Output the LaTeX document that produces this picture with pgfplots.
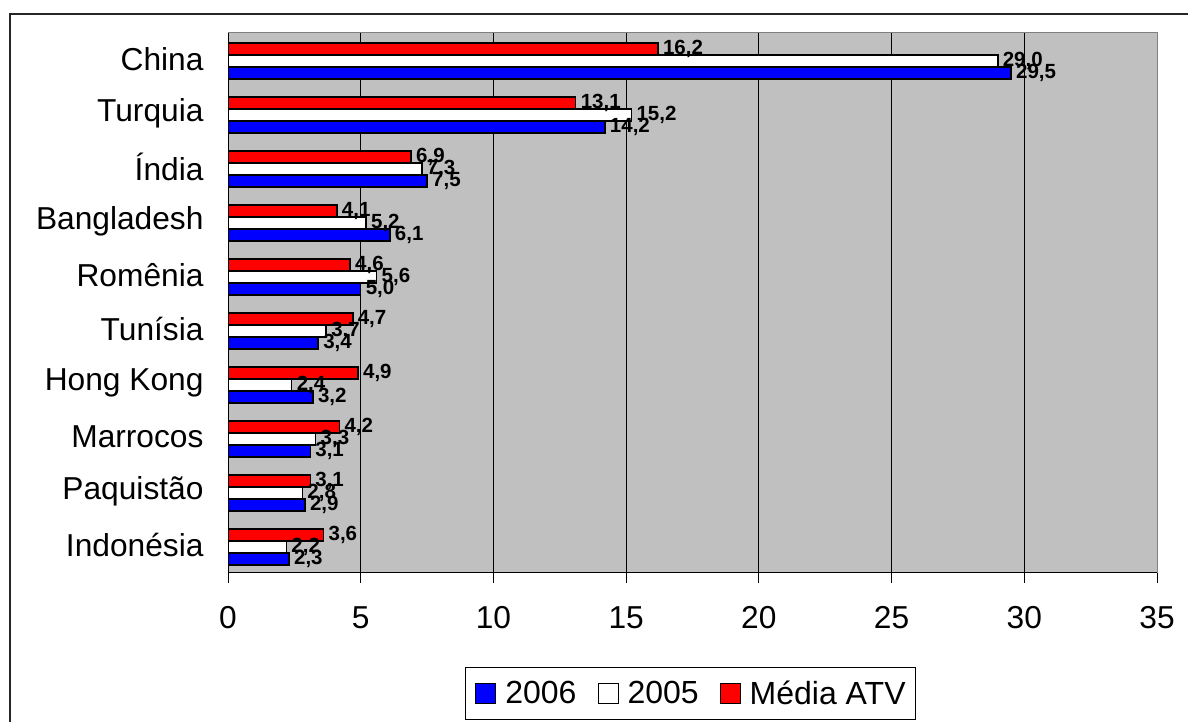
\documentclass[border=0pt]{standalone}
\usepackage{fontspec}
\setmainfont{Liberation Sans}
\usepackage{pgfplots}
\pgfplotsset{compat=1.18}

\definecolor{plotbg}{RGB}{192,192,192}
\definecolor{frameborder}{RGB}{128,128,128}
\definecolor{bar2006}{RGB}{0,0,255}
\definecolor{barATV}{RGB}{255,0,0}

\begin{document}
\begin{tikzpicture}[x=1pt,y=1pt]
\useasboundingbox (0,0) rectangle (1188,722);
% outer chart frame
\draw[line width=2.5pt, black!85] (10,-5) -- (10,708) -- (1195,708);

\begin{axis}[
  at={(228pt,149pt)}, anchor=south west,
  scale only axis, width=929pt, height=540pt,
  xbar, bar width=12pt,
  xmin=0, xmax=35, ymin=-0.5, ymax=9.5,
  xtick={0,5,...,35},
  ytick={0,...,9},
  yticklabels={Indonésia,Paquistão,Marrocos,Hong Kong,Tunísia,Romênia,Bangladesh,Índia,Turquia,China},
  extra y ticks={-0.5,0.5,...,9.5},
  extra y tick labels={},
  extra y tick style={grid=none, major tick style={draw=black, line width=1pt}},
  ytick style={draw=none},
  tick align=outside, tick pos=left,
  major tick length=10pt,
  xtick style={draw=black, line width=1pt},
  xmajorgrids, major x grid style={draw=black, line width=0.8pt},
  axis background/.style={fill=plotbg},
  axis line style={draw=frameborder, line width=1pt},
  /pgf/number format/assume math mode=true,
  tick label style={font=\fontsize{31.7}{38}\selectfont},
  yticklabel style={anchor=east, xshift=-11pt, yshift=1pt},
  xticklabel style={anchor=north, yshift=-20pt},
  nodes near coords,
  nodes near coords style={font=\fontsize{20.5}{23}\selectfont\bfseries, anchor=west, xshift=1pt,
    /pgf/number format/.cd, fixed, fixed zerofill, precision=1, use comma},
  legend columns=3,
  legend style={at={(0.4978,-0.2231)}, anchor=center, draw=black, line width=1pt, fill=white,
    font=\fontsize{32}{38}\selectfont, inner xsep=10pt, inner ysep=13pt,
    nodes={inner sep=0pt},
    /tikz/every odd column/.append style={column sep=9pt},
    /tikz/every even column/.append style={column sep=21pt}},
  legend image code/.code={\draw[#1, line width=1pt] (0pt,-10pt) rectangle (20pt,10pt);},
  after end axis/.code={
    \draw[black, line width=1pt] (rel axis cs:0,1) -- (rel axis cs:0,0) -- (rel axis cs:1,0);
  },
]
% 2006
\addplot[fill=bar2006, draw=black, line width=1.5pt, bar shift=-13pt] coordinates {
  (2.3,0) (2.9,1) (3.1,2) (3.2,3) (3.4,4) (5.0,5) (6.1,6) (7.5,7) (14.2,8) (29.5,9)};
% 2005
\addplot[fill=white, draw=black, line width=1.5pt, bar shift=-1pt] coordinates {
  (2.2,0) (2.8,1) (3.3,2) (2.4,3) (3.7,4) (5.6,5) (5.2,6) (7.3,7) (15.2,8) (29.0,9)};
% Média ATV
\addplot[fill=barATV, draw=black, line width=1.5pt, bar shift=11pt] coordinates {
  (3.6,0) (3.1,1) (4.2,2) (4.9,3) (4.7,4) (4.6,5) (4.1,6) (6.9,7) (13.1,8) (16.2,9)};
\legend{2006,2005,Média ATV}
\end{axis}
\end{tikzpicture}
\end{document}
